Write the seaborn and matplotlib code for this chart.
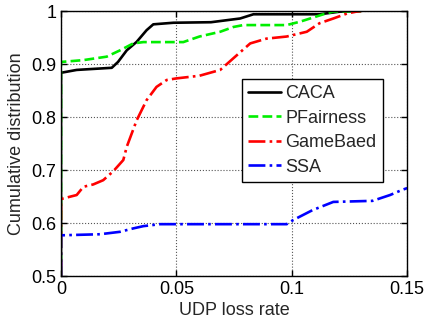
import numpy as np
import pandas as pd
import seaborn as sns
from matplotlib import pyplot as plt

# CDF points
caca_x = [0, 0, 0.0068, 0.022, 0.0247, 0.0285, 0.0328, 0.0371, 0.040, 0.0487,
          0.065, 0.0776, 0.0834, 0.112, 0.121, 0.13]
caca_y = [0.5, 0.8836, 0.889, 0.893, 0.904, 0.926, 0.942, 0.964, 0.975, 0.978,
          0.979, 0.986, 0.994, 0.994, 0.999, 1.0]

pfair_x = [0, 0, 0.0097, 0.0198, 0.0256, 0.0313, 0.0357, 0.053, 0.060, 0.069,
           0.0747, 0.079, 0.0978, 0.1036, 0.1137, 0.118, 0.13]
pfair_y = [0.5, 0.904, 0.9075, 0.914, 0.926, 0.939, 0.9415, 0.9415, 0.952, 0.961,
           0.970, 0.9736, 0.9736, 0.980, 0.994, 0.999, 1.0]

game_x = [0, 0, 0.001, 0.0068, 0.0097, 0.014, 0.0183, 0.0227, 0.027, 0.0285,
          0.0328, 0.0371, 0.0414, 0.0458, 0.050, 0.060, 0.069, 0.0747, 0.082,
          0.089, 0.0978, 0.1065, 0.112, 0.118, 0.124, 0.128, 0.13]
game_y = [0.5, 0.645, 0.6466, 0.653, 0.6685, 0.673, 0.681, 0.698, 0.719, 0.744,
          0.794, 0.832, 0.857, 0.870, 0.873, 0.878, 0.889, 0.911, 0.939,
          0.948, 0.952, 0.961, 0.977, 0.986, 0.9955, 0.999, 1.0]

ssa_x = [0, 0, 0.0169, 0.0256, 0.0313, 0.0357, 0.0429, 0.0978, 0.1007, 0.109,
         0.118, 0.135, 0.1426, 0.148, 0.15]
ssa_y = [0.5, 0.577, 0.579, 0.5836, 0.590, 0.5943, 0.598, 0.598, 0.606, 0.6245,
         0.640, 0.642, 0.653, 0.663, 0.666]

names = ["CACA", "PFairness", "GameBaed", "SSA"]
colors = ["black", "#00ee00", "red", "blue"]
dashes = ["-", "--", "-.", "-."]

sns.set_style("ticks")
plt.rcParams["font.family"] = ["Liberation Sans", "DejaVu Sans"]

fig, ax = plt.subplots(figsize=(4.25, 3.26), dpi=100)

series = [(caca_x, caca_y), (pfair_x, pfair_y), (game_x, game_y), (ssa_x, ssa_y)]
for (xs, ys), name, c, ls in zip(series, names, colors, dashes):
    df = pd.DataFrame({"x": xs, "y": ys})
    sns.lineplot(data=df, x="x", y="y", ax=ax, color=c, linestyle=ls,
                 linewidth=1.9, estimator=None, sort=False, label=name)

ax.set_xlim(0, 0.15)
ax.set_ylim(0.5, 1.0)
ax.set_xticks([0, 0.05, 0.1, 0.15])
ax.set_xticklabels(["0", "0.05", "0.1", "0.15"])
ax.set_yticks([0.5, 0.6, 0.7, 0.8, 0.9, 1.0])
ax.set_yticklabels(["0.5", "0.6", "0.7", "0.8", "0.9", "1"])
ax.grid(True, linestyle=":", color="#555555", linewidth=0.8)
ax.tick_params(direction="in", top=True, right=True, labelsize=13, length=4,
               width=1, colors="black")
for s in ax.spines.values():
    s.set_color("black")
    s.set_linewidth(1)
ax.set_xlabel("UDP loss rate", fontsize=13, labelpad=3)
ax.set_ylabel("Cumulative distribution", fontsize=13, labelpad=4)

leg = ax.legend(loc="upper left", bbox_to_anchor=(0.523, 0.745), fontsize=13,
                frameon=True, fancybox=False, framealpha=1, edgecolor="black",
                handlelength=1.8, borderpad=0.35, labelspacing=0.42,
                handletextpad=0.25, borderaxespad=0)
leg.get_frame().set_linewidth(1)

fig.subplots_adjust(left=0.1435, right=0.958, top=0.966, bottom=0.153)
fig.savefig("out.png", dpi=100)
